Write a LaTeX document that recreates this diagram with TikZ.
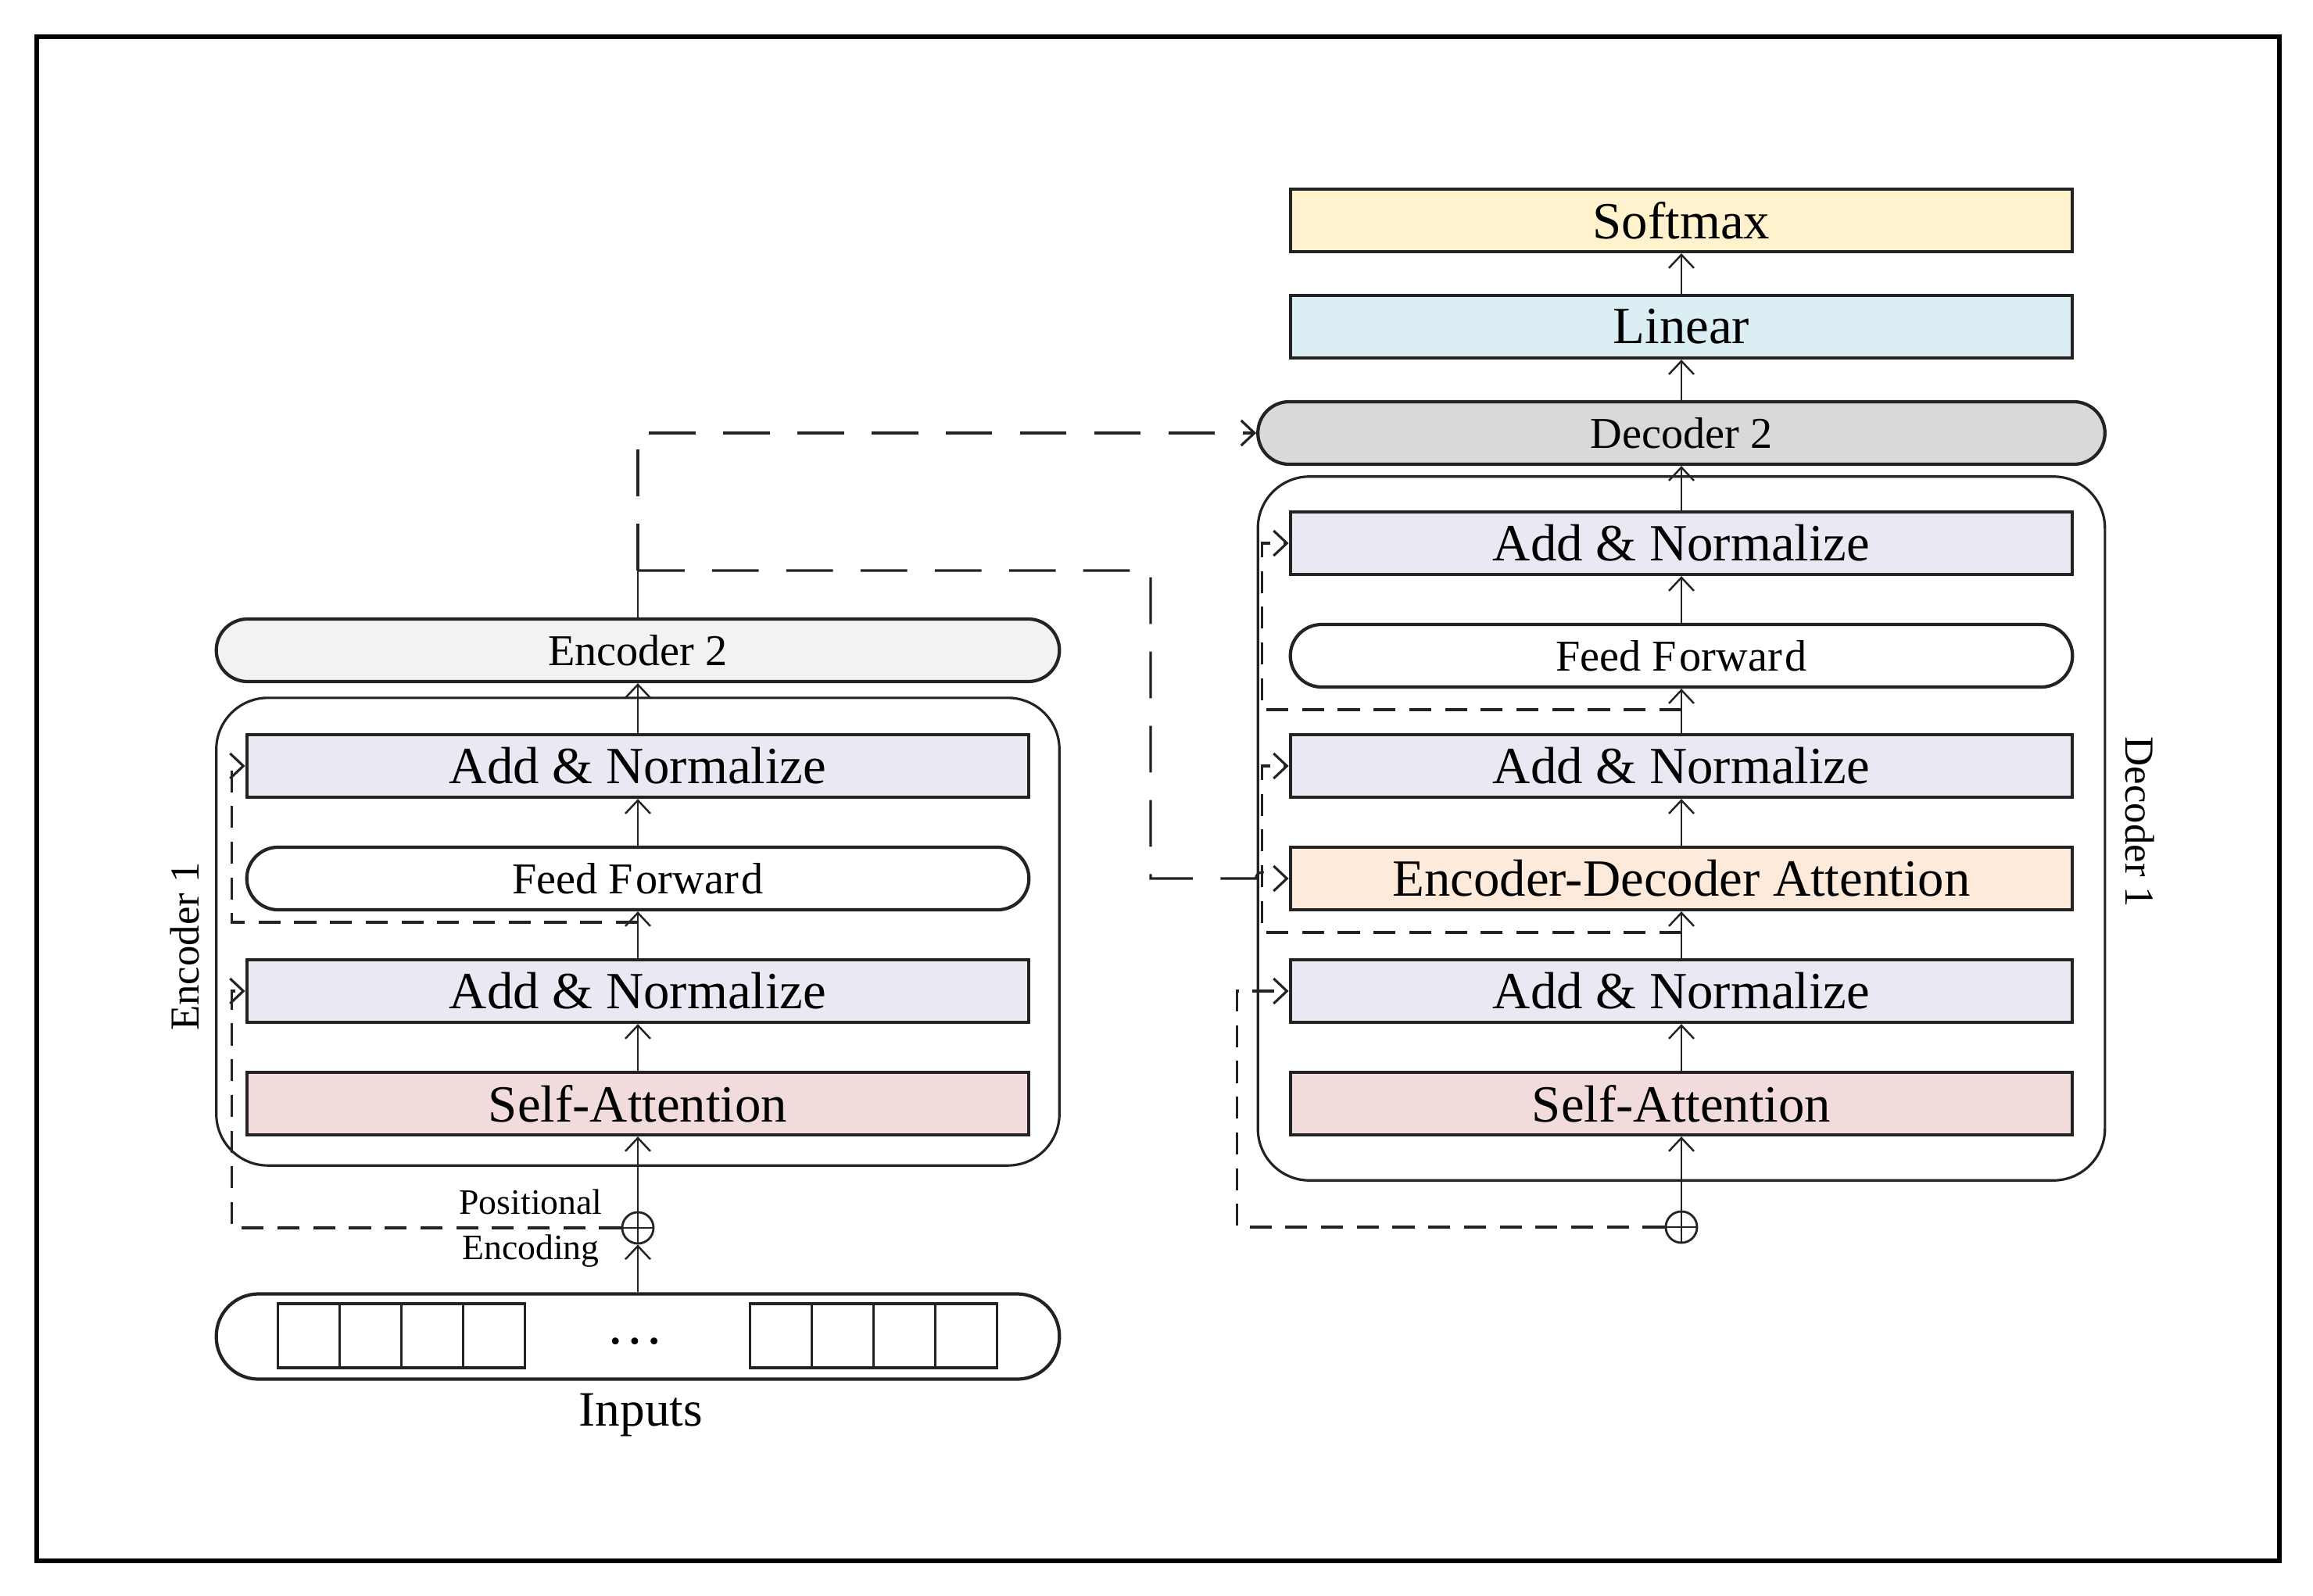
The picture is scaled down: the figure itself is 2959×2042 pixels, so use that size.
\documentclass[tikz,border=0pt]{standalone}
\usepackage{fontspec}
\setmainfont{Liberation Serif}
\usetikzlibrary{arrows.meta,positioning,calc}
\definecolor{normcol}{RGB}{234,232,242}
\definecolor{selfcol}{RGB}{242,220,219}
\definecolor{edacol}{RGB}{253,234,218}
\definecolor{softcol}{RGB}{255,242,204}
\definecolor{lincol}{RGB}{218,238,243}
\definecolor{dectopcol}{RGB}{217,217,217}
\definecolor{enctopcol}{RGB}{242,242,242}
\definecolor{edge}{RGB}{35,35,35}

\begin{document}
\begin{tikzpicture}[x=0.01cm, y=-0.01cm,
    >={Straight Barb[length=0.17cm, width=0.32cm]},
    layer/.style={rectangle, draw=edge, line width=1.2pt, minimum width=10cm, minimum height=0.8cm, inner sep=0pt, font=\fontsize{19}{22}\selectfont},
    norm/.style={layer, fill=normcol},
    selfatt/.style={layer, fill=selfcol},
    edatt/.style={layer, fill=edacol},
    ffwd/.style={layer, fill=white, rounded corners=0.4cm, font=\fontsize{16}{19}\selectfont},
    pill/.style={rectangle, draw=edge, line width=1.2pt, rounded corners=0.4cm, minimum height=0.8cm, inner sep=0pt, font=\fontsize{16}{19}\selectfont},
    stack/.style={rectangle, draw=edge, line width=0.9pt, rounded corners=0.66cm},
    cell/.style={rectangle, draw=edge, line width=1pt, minimum width=0.79cm, minimum height=0.82cm, inner sep=0pt},
    addpos/.style={circle, draw=edge, line width=0.8pt, minimum size=0.4cm, inner sep=0pt,
        path picture={\draw[line width=0.8pt] (path picture bounding box.west) -- (path picture bounding box.east)
                                          (path picture bounding box.north) -- (path picture bounding box.south);}},
    flow/.style={->, line width=0.7pt, draw=edge},
    skip/.style={->, line width=0.9pt, draw=edge, dash pattern=on 8pt off 5pt},
    cross/.style={->, line width=0.9pt, draw=edge, dash pattern=on 17pt off 10pt},
    sidelabel/.style={font=\fontsize{15}{18}\selectfont}
]
    \useasboundingbox (0,0) rectangle (2959,2042);
    \draw[line width=1.6pt] (47,47) rectangle (2916,1997);

    % encoder
    \node[stack, minimum width=10.78cm, minimum height=5.98cm] (encbox) at (816,1192) {};
    \node[pill, fill=enctopcol, minimum width=10.78cm] (enc2) at (816,832) {Encoder 2};
    \node[norm] (encN1) at (816,980) {Add \& Normalize};
    \node[ffwd] (encFF) at (816,1124) {Feed F\kern1pt orwar\kern1pt d};
    \node[norm] (encN2) at (816,1268) {Add \& Normalize};
    \node[selfatt] (encSA) at (816,1412) {Self-Attention};
    \node[addpos] (pe) at (816,1571) {};
    \node[font=\fontsize{13}{16.5}\selectfont, align=center] (pelabel) at (679,1572) {Positional\\Encoding};
    \node[sidelabel, rotate=90] (enclabel) at (236,1211) {Encoder 1};

    % inputs
    \node[pill, fill=white, minimum width=10.78cm, minimum height=1.09cm, rounded corners=0.54cm] (inputs) at (816,1710) {};
    \foreach \i in {0,...,3} {
        \node[cell] (inl\i) at (395+79*\i,1709) {};
        \node[cell] (inr\i) at (999+79*\i,1709) {};
    }
    \node[font=\fontsize{21}{24}\selectfont] (indots) at (812,1716) {\ldots};
    \node[font=\fontsize{18}{21}\selectfont] (inlabel) at (820,1810) {Inputs};

    % decoder
    \node[stack, minimum width=10.83cm, minimum height=9cm] (decbox) at (2151,1060) {};
    \node[layer, fill=softcol] (soft) at (2151,282) {Softmax};
    \node[layer, fill=lincol] (lin) at (2151,418) {Linear};
    \node[pill, fill=dectopcol, minimum width=10.83cm] (dec2) at (2151,554) {Decoder 2};
    \node[norm] (decN1) at (2151,695) {Add \& Normalize};
    \node[ffwd] (decFF) at (2151,839) {Feed F\kern1pt orwar\kern1pt d};
    \node[norm] (decN2) at (2151,980) {Add \& Normalize};
    \node[edatt] (decED) at (2151,1124) {Encoder-Decoder Attention};
    \node[norm] (decN3) at (2151,1268) {Add \& Normalize};
    \node[selfatt] (decSA) at (2151,1412) {Self-Attention};
    \node[addpos] (pd) at (2151,1570) {};
    \node[sidelabel, rotate=-90] (declabel) at (2738,1052) {Decoder 1};

    % main flow
    \draw[flow] (inputs.north) -- (pe.south);
    \draw[flow] (pe.north) -- (encSA.south);
    \draw[flow] (encSA) -- (encN2);
    \draw[flow] (encN2) -- (encFF);
    \draw[flow] (encFF) -- (encN1);
    \draw[flow] (encN1) -- (enc2);
    \draw[flow] (pd.north) -- (decSA.south);
    \draw[flow] (decSA) -- (decN3);
    \draw[flow] (decN3) -- (decED);
    \draw[flow] (decED) -- (decN2);
    \draw[flow] (decN2) -- (decFF);
    \draw[flow] (decFF) -- (decN1);
    \draw[flow] (decN1) -- (dec2);
    \draw[flow] (dec2) -- (lin);
    \draw[flow] (lin) -- (soft);

    % residual links
    \coordinate (encffin) at (816,1180);
    \coordinate (decedin) at (2151,1193);
    \coordinate (decffin) at (2151,908);
    \draw[skip] (pe.west) -| ([xshift=-0.17cm]encN2.west) -- (encN2.west);
    \draw[skip] (encffin) -| ([xshift=-0.17cm]encN1.west) -- (encN1.west);
    \draw[skip] (pd.west) -| ([xshift=-0.66cm]decN3.west) -- (decN3.west);
    \draw[skip] (decedin) -| ([xshift=-0.34cm]decN2.west) -- (decN2.west);
    \draw[skip] (decffin) -| ([xshift=-0.34cm]decN1.west) -- (decN1.west);

    % encoder to decoder
    \coordinate (encout) at (816,730);
    \coordinate (crossturn) at (1472,730);
    \draw[line width=0.7pt, draw=edge] (enc2.north) -- (encout);
    \draw[cross] (encout) |- (dec2.west);
    \draw[cross] (encout) -- (crossturn) |- ([xshift=-0.42cm]decED.west)
        arc[start angle=180, end angle=360, radius=8] -- (decED.west);
\end{tikzpicture}
\end{document}
